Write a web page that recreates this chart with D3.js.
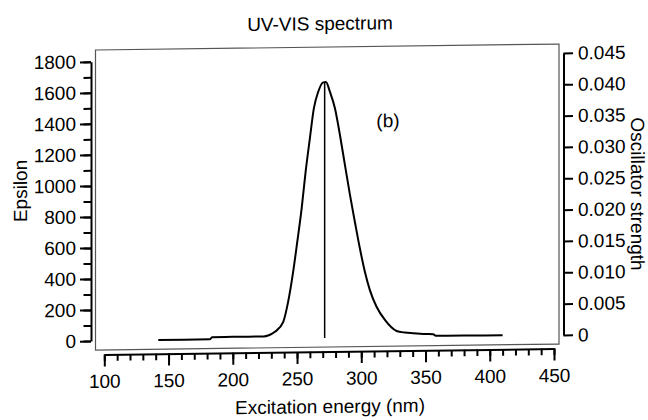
<!DOCTYPE html>
<html>
<head>
<meta charset="utf-8">
<script src="https://cdn.jsdelivr.net/npm/d3@7"></script>
<style>
  body { margin: 0; background: #fff; }
  svg text { font-family: "Liberation Sans", Arial, Helvetica, sans-serif; fill: #000; }
</style>
</head>
<body>
<div id="chart"></div>
<script>
// spectrum
const wavelength = [142, 182, 184, 200, 224, 228, 232.8, 239.3, 243.1, 247, 250.2, 253.6, 256.7, 260, 263.1, 266.5, 270.4, 272.5, 275.6, 279.5, 283.4, 287.3, 291.2, 295, 298.9, 302.8, 306.7, 311.9, 318.4, 327.5, 334, 340.4, 350, 356, 358, 380, 410];
const epsilon = [1, 1, 14, 15, 15, 22, 44, 108, 237, 430, 623, 838, 1074, 1288, 1481, 1588, 1648, 1650, 1587, 1480, 1307, 1113, 920, 747, 575, 424, 305, 197, 111, 39, 28, 23, 17, 15, 5, 4, 3];

// oscillator strength sticks
const stickWavelength = [271.5];
const stickStrength = [0.0408];

const xTicks = d3.range(100, 451, 50);
const xMinor = d3.range(100, 451, 10);
const leftTicks = d3.range(0, 1801, 200);
const leftMinor = d3.range(0, 1801, 100);
const rightTicks = [0, 0.005, 0.010, 0.015, 0.020, 0.025, 0.030, 0.035, 0.040, 0.045];

const width = 648, height = 420;
const fs = 19;

const x = d3.scaleLinear().domain([100, 450]).range([104.3, 554]);
const yL = d3.scaleLinear().domain([0, 1800]).range([337.9, 58.7]);
const yR = d3.scaleLinear().domain([0, 0.045]).range([338, 56]);

const svg = d3.select("#chart")
  .append("svg")
  .attr("width", width)
  .attr("height", height);

// the scanned figure is slightly skewed (right side higher)
const g = svg.append("g")
  .attr("transform", "translate(330,0) skewY(-0.74) translate(-330,0)");

// plot frame
g.append("rect")
  .attr("x", 95.5)
  .attr("y", 47)
  .attr("width", 463.5)
  .attr("height", 300)
  .attr("fill", "none")
  .attr("stroke", "#555")
  .attr("stroke-width", 1.2);

function styleAxis(sel) {
  sel.selectAll("path").attr("stroke", "#000").attr("stroke-width", 2);
  sel.selectAll("line").attr("stroke", "#000").attr("stroke-width", 2);
  sel.selectAll("text").attr("font-size", fs).attr("fill", "#000")
    .attr("font-family", "'Liberation Sans', Arial, sans-serif");
}

// left axis
g.append("g")
  .attr("transform", "translate(91,0)")
  .call(d3.axisLeft(yL).tickValues(leftMinor).tickSize(7.5).tickSizeOuter(0).tickFormat(""))
  .call(s => s.select(".domain").remove())
  .call(styleAxis);
g.append("g")
  .attr("transform", "translate(91,0)")
  .call(d3.axisLeft(yL).tickValues(leftTicks).tickSize(11).tickSizeOuter(0).tickPadding(4)
    .tickFormat(d3.format("d")))
  .call(styleAxis);

// bottom axis
g.append("g")
  .attr("transform", "translate(0,351.5)")
  .call(d3.axisBottom(x).tickValues(xMinor).tickSize(6.5).tickSizeOuter(0).tickFormat(""))
  .call(s => s.select(".domain").remove())
  .call(styleAxis);
g.append("g")
  .attr("transform", "translate(0,351.5)")
  .call(d3.axisBottom(x).tickValues(xTicks).tickSize(12).tickSizeOuter(0).tickPadding(8)
    .tickFormat(d3.format("d")))
  .call(styleAxis);

// right axis
g.append("g")
  .attr("transform", "translate(563.5,0)")
  .call(d3.axisRight(yR).tickValues(rightTicks).tickSize(9.5).tickSizeOuter(0).tickPadding(5)
    .tickFormat(d => d === 0 ? "0" : d3.format(".3f")(d)))
  .call(styleAxis);

// spectrum
const line = d3.line()
  .x((d, i) => x(wavelength[i]))
  .y(d => yL(d))
  .curve(d3.curveMonotoneX);

g.append("path")
  .datum(epsilon)
  .attr("d", line)
  .attr("fill", "none")
  .attr("stroke", "#000")
  .attr("stroke-width", 2);

g.selectAll(".stick")
  .data(stickStrength)
  .enter()
  .append("line")
  .attr("class", "stick")
  .attr("x1", (d, i) => x(stickWavelength[i]))
  .attr("x2", (d, i) => x(stickWavelength[i]))
  .attr("y1", yR(0))
  .attr("y2", d => yR(d))
  .attr("stroke", "#000")
  .attr("stroke-width", 1.5);

// texts
g.append("text")
  .attr("x", 320)
  .attr("y", 30)
  .attr("text-anchor", "middle")
  .attr("font-size", fs)
  .text("UV-VIS spectrum");

g.append("text")
  .attr("x", 330)
  .attr("y", 413)
  .attr("text-anchor", "middle")
  .attr("font-size", fs)
  .text("Excitation energy (nm)");

g.append("text")
  .attr("transform", "translate(27,187) rotate(-90)")
  .attr("text-anchor", "middle")
  .attr("font-size", fs)
  .text("Epsilon");

g.append("text")
  .attr("transform", "translate(631,198) rotate(90)")
  .attr("text-anchor", "middle")
  .attr("font-size", fs)
  .text("Oscillator strength");

g.append("text")
  .attr("x", 388)
  .attr("y", 128)
  .attr("text-anchor", "middle")
  .attr("font-size", fs)
  .text("(b)");
</script>
</body>
</html>
